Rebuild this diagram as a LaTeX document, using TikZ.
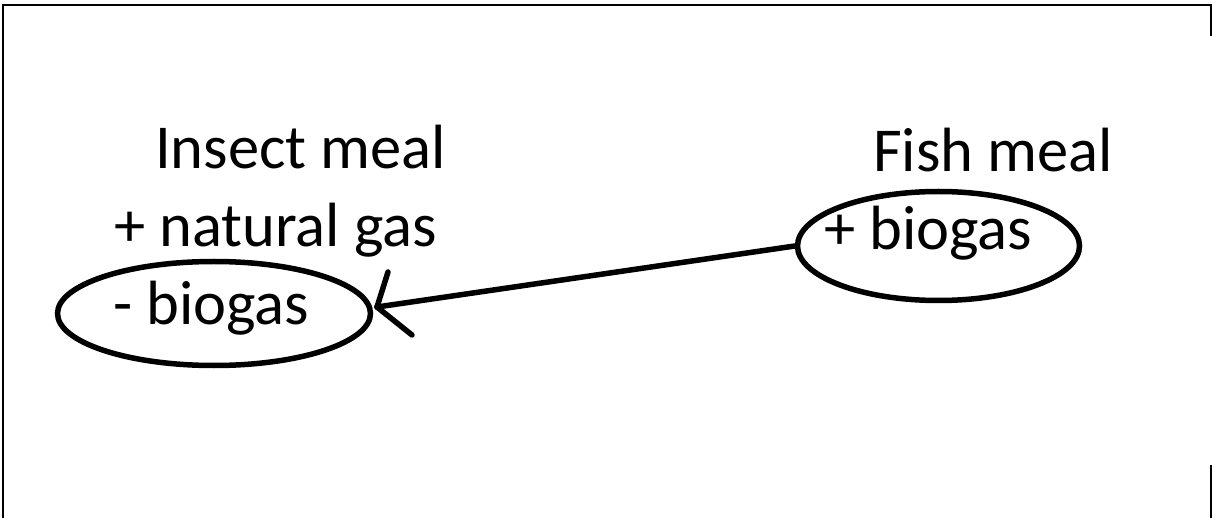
\documentclass[tikz,border=0pt]{standalone}
\usepackage{fontspec}
\setmainfont{Carlito}
\usetikzlibrary{shapes.geometric}
\begin{document}
\begin{tikzpicture}[x=1pt,y=-1pt,
  lbl/.style={anchor=base west, inner sep=0pt, font=\fontsize{62.5}{75}\selectfont},
  oval/.style={draw, ellipse, line width=5.5pt, inner sep=0pt},
  stroke/.style={line width=5.5pt, line cap=round},
  frame/.style={line width=2pt}]
\useasboundingbox (0,0) rectangle (1212,518);
% frame
\draw[frame] (3,518) -- (3,5) -- (1211,5) -- (1211,36);
\draw[frame] (1211,465) -- (1211,518);
% ovals
\node[oval, minimum width=313pt, minimum height=104pt] (e1) at (214,313.5) {};
\node[oval, minimum width=282pt, minimum height=109pt] (e2) at (938.5,246) {};
% texts
\node[lbl] (t1) at (155,169) {Insect meal};
\node[lbl] (t2) at (114,247) {+ natural gas};
\node[lbl] (t3) at (113,325) {- biogas};
\node[lbl] (t4) at (873,172) {Fish meal};
\node[lbl] (t5) at (824,250) {+ biogas};
% arrow
\coordinate (tip) at (377,307);
\draw[stroke] (e2.west) -- (tip);
\draw[stroke] (tip) -- ++(11,-35);
\draw[stroke] (tip) -- ++(35,28);
\end{tikzpicture}
\end{document}
